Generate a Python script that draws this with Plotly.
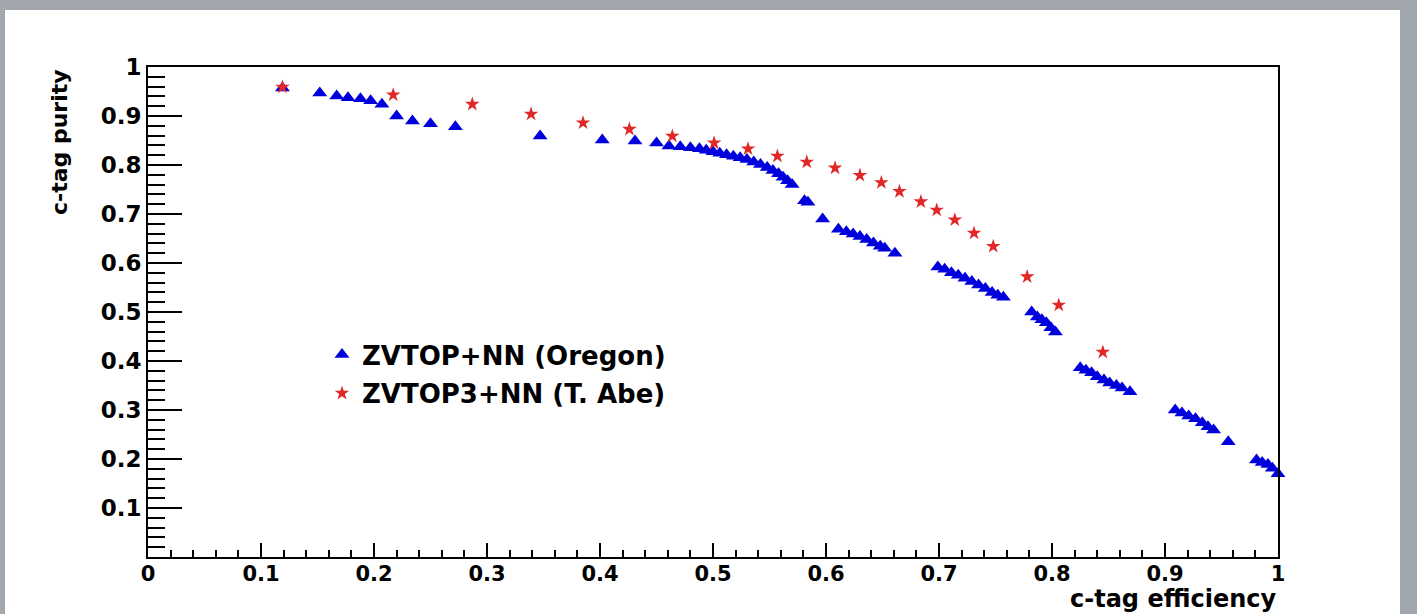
import plotly.graph_objects as go

# ZVTOP+NN (Oregon) : c-tag efficiency / purity
oregon_eff = [0.119, 0.152, 0.167, 0.177, 0.188, 0.197, 0.207, 0.220, 0.234, 0.250,
              0.272, 0.347, 0.402, 0.431, 0.450, 0.461, 0.471, 0.480, 0.488, 0.494,
              0.500, 0.506, 0.512, 0.518, 0.524, 0.530, 0.536, 0.542, 0.548, 0.553,
              0.558, 0.562, 0.566, 0.570, 0.581, 0.584, 0.597, 0.611, 0.618, 0.624,
              0.630, 0.636, 0.642, 0.648, 0.652, 0.661, 0.699, 0.705, 0.711, 0.717,
              0.723, 0.729, 0.735, 0.741, 0.747, 0.752, 0.757, 0.782, 0.787, 0.791,
              0.795, 0.799, 0.803, 0.825, 0.830, 0.835, 0.840, 0.846, 0.851, 0.857,
              0.862, 0.869, 0.909, 0.915, 0.921, 0.927, 0.933, 0.938, 0.943, 0.956,
              0.981, 0.986, 0.991, 0.995, 1.000]
oregon_pur = [0.957, 0.947, 0.941, 0.937, 0.935, 0.931, 0.924, 0.900, 0.890, 0.884,
              0.878, 0.859, 0.851, 0.849, 0.845, 0.839, 0.837, 0.835, 0.833, 0.830,
              0.827, 0.824, 0.821, 0.818, 0.815, 0.811, 0.806, 0.801, 0.795, 0.789,
              0.782, 0.775, 0.768, 0.760, 0.727, 0.724, 0.690, 0.669, 0.664, 0.659,
              0.654, 0.648, 0.641, 0.634, 0.630, 0.620, 0.592, 0.587, 0.580, 0.575,
              0.569, 0.562, 0.555, 0.548, 0.540, 0.534, 0.530, 0.500, 0.490, 0.484,
              0.478, 0.468, 0.459, 0.386, 0.381, 0.376, 0.368, 0.361, 0.355, 0.350,
              0.345, 0.337, 0.300, 0.294, 0.288, 0.282, 0.274, 0.266, 0.259, 0.235,
              0.198, 0.193, 0.189, 0.181, 0.170]

# ZVTOP3+NN (T. Abe)
abe_eff = [0.119, 0.217, 0.287, 0.339, 0.385, 0.426, 0.464, 0.501, 0.531, 0.557,
           0.583, 0.608, 0.630, 0.649, 0.665, 0.684, 0.698, 0.714, 0.731, 0.748,
           0.778, 0.806, 0.845]
abe_pur = [0.959, 0.943, 0.924, 0.904, 0.886, 0.873, 0.859, 0.845, 0.833, 0.818,
           0.806, 0.794, 0.779, 0.764, 0.746, 0.725, 0.708, 0.688, 0.661, 0.634,
           0.572, 0.514, 0.418]

x_ticks = [0, 0.1, 0.2, 0.3, 0.4, 0.5, 0.6, 0.7, 0.8, 0.9, 1.0]
x_labels = ["0", "0.1", "0.2", "0.3", "0.4", "0.5", "0.6", "0.7", "0.8", "0.9", "1"]
y_ticks = [0.1, 0.2, 0.3, 0.4, 0.5, 0.6, 0.7, 0.8, 0.9, 1.0]
y_labels = ["0.1", "0.2", "0.3", "0.4", "0.5", "0.6", "0.7", "0.8", "0.9", "1"]

FONT = "DejaVu Sans"

fig = go.Figure()
fig.add_trace(go.Scatter(
    x=oregon_eff, y=oregon_pur, mode="markers", name="ZVTOP+NN (Oregon)",
    legendgroup="a", cliponaxis=False,
    marker=dict(symbol="triangle-up", size=13, color="#0000dd", line=dict(width=0))))
fig.add_trace(go.Scatter(
    x=abe_eff, y=abe_pur, mode="markers", name="ZVTOP3+NN (T. Abe)",
    legendgroup="b", cliponaxis=False,
    marker=dict(symbol="star", size=11, color="#e02828", line=dict(width=0))))

L, R, T, B = 148, 1278, 67, 557
W, H = 1417, 614
pw, ph = R - L, B - T

def px(xp):
    return (xp - L) / pw

def py(yp):
    return (B - yp) / ph

fig.update_layout(
    width=W, height=H,
    margin=dict(l=L, r=W - R, t=T, b=H - B, pad=0),
    paper_bgcolor="#a2a7ad",
    plot_bgcolor="white",
    showlegend=True,
    legend=dict(x=px(322), y=py(331), xanchor="left", yanchor="top",
                bgcolor="rgba(0,0,0,0)", tracegroupgap=2,
                font=dict(family=FONT, size=26, color="black", weight="bold"),
                itemsizing="trace"),
    shapes=[dict(type="rect", xref="paper", yref="paper", layer="below",
                 x0=px(5), x1=px(1400), y0=py(640), y1=py(10),
                 fillcolor="white", line=dict(width=0))],
    annotations=[
        dict(text="c-tag efficiency", xref="paper", yref="paper",
             x=1.0, y=py(599), xanchor="right", yanchor="middle", showarrow=False,
             font=dict(family=FONT, size=24, color="black", weight="bold")),
        dict(text="c-tag purity", xref="paper", yref="paper", textangle=-90,
             x=px(59), y=1.0, xanchor="center", yanchor="top", showarrow=False,
             font=dict(family=FONT, size=22, color="black", weight="bold")),
    ],
)

fig.update_xaxes(
    range=[0, 1], showgrid=False, zeroline=False,
    showline=True, linecolor="black", linewidth=2, mirror=True,
    ticks="inside", ticklen=14, tickwidth=1.5, tickcolor="black",
    tickvals=x_ticks, ticktext=x_labels, ticklabelstandoff=-3,
    tickfont=dict(family=FONT, size=21, color="black", weight="bold"),
    minor=dict(dtick=0.02, ticks="inside", ticklen=7, tickwidth=1.5, tickcolor="black"),
)
fig.update_yaxes(
    range=[0, 1], showgrid=False, zeroline=False,
    showline=True, linecolor="black", linewidth=2, mirror=True,
    ticks="inside", ticklen=34, tickwidth=1.5, tickcolor="black",
    tickvals=y_ticks, ticktext=y_labels,
    tickfont=dict(family=FONT, size=23, color="black", weight="bold"),
    minor=dict(tick0=0, dtick=0.02, ticks="inside", ticklen=17, tickwidth=1.5, tickcolor="black"),
)

fig.write_html("out.html")
